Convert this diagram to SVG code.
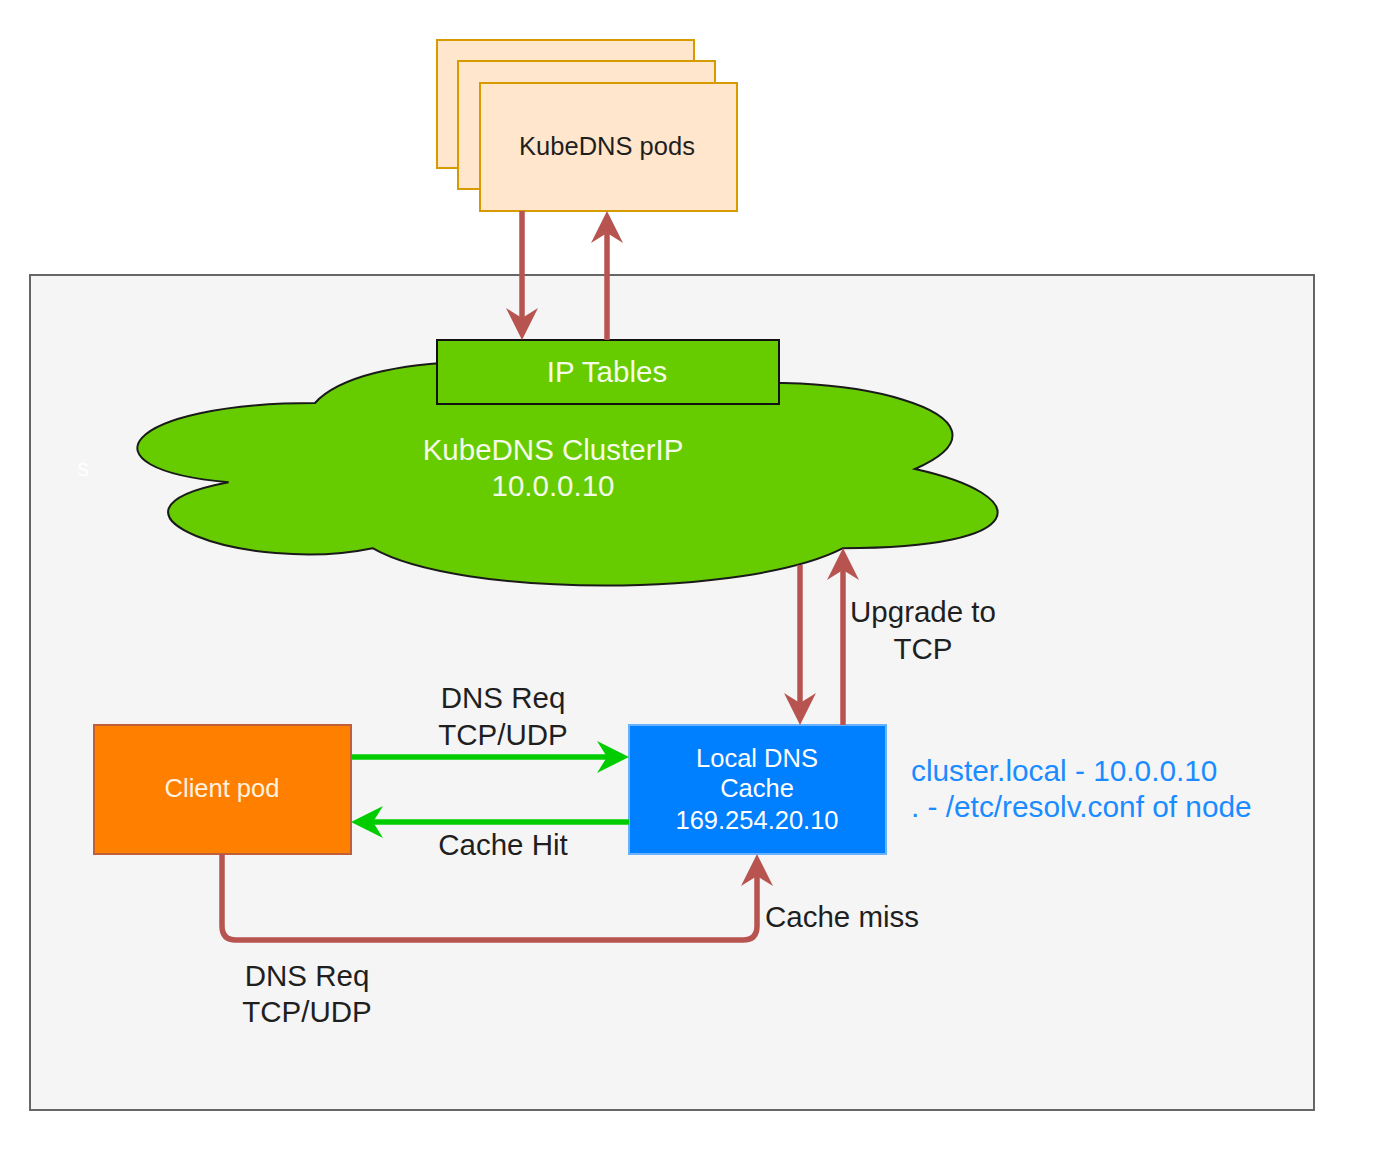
<svg xmlns="http://www.w3.org/2000/svg" width="1375" height="1149" viewBox="0 0 1375 1149">
<style>
text{font-family:"Liberation Sans",Arial,sans-serif;text-anchor:middle}
.lbl{font-size:29.5px;fill:#1f1f1f}
.nd{font-size:25.5px}
.big{font-size:29.5px;fill:#f4fbe8}
.red{fill:none;stroke:#b85450;stroke-width:5.5}
.grn{fill:none;stroke:#00cc00;stroke-width:5.5}
.pod{fill:#ffe6cc;stroke:#d79b00;stroke-width:2}
</style>
<defs>
<marker id="ar" markerUnits="userSpaceOnUse" markerWidth="34" markerHeight="34" refX="10" refY="16" orient="auto"><path d="M0,0 L32,16 L0,32 L10,16 Z" fill="#b85450"/></marker>
<marker id="ag" markerUnits="userSpaceOnUse" markerWidth="34" markerHeight="34" refX="10" refY="16" orient="auto"><path d="M0,0 L32,16 L0,32 L10,16 Z" fill="#00cc00"/></marker>
</defs>
<rect width="1375" height="1149" fill="#ffffff"/>
<g id="node-container"><rect x="30" y="275" width="1284" height="835" fill="#f5f5f5" stroke="#666666" stroke-width="2"/>
<text x="83" y="476" style="font-size:18px;fill:#ffffff">S</text></g>
<g id="node-kubedns-pods">
<rect class="pod" x="437" y="40" width="257" height="128"/>
<rect class="pod" x="458" y="61" width="257" height="128"/>
<rect class="pod" x="480" y="83" width="257" height="128"/>
<text class="nd" x="607" y="155" fill="#1f1f1f">KubeDNS pods</text>
</g>
<g id="node-cloud">
<path d="M315,403 C123,403 75,469 228.6,482.2 C75,511.2 247.8,574.6 372.6,548.2 C459,598 747,598 843,548.2 C1035,548.2 1035,495.4 915,469 C1035,416.2 843,363.4 675,389.8 C555,350.2 363,350.2 315,403 Z" fill="#66cc00" stroke="#1a1a1a" stroke-width="2"/>
<text class="big" x="553" y="460">KubeDNS ClusterIP</text>
<text class="big" x="553" y="496">10.0.0.10</text>
</g>
<g id="node-iptables">
<rect x="437" y="340" width="342" height="64" fill="#66cc00" stroke="#111111" stroke-width="2"/>
<text class="big" x="607" y="382">IP Tables</text>
</g>
<g id="node-client-pod">
<rect x="94" y="725" width="257" height="129" fill="#ff8000" stroke="#c0603a" stroke-width="2"/>
<text class="nd" x="222" y="797" fill="#fff2e0">Client pod</text>
</g>
<g id="node-local-dns">
<rect x="629" y="725" width="257" height="129" fill="#007fff" stroke="#66b2ff" stroke-width="2"/>
<text class="nd" x="757" y="767" fill="#ffffff">Local DNS</text>
<text class="nd" x="757" y="797" fill="#ffffff">Cache</text>
<text class="nd" x="757" y="829" fill="#ffffff">169.254.20.10</text>
</g>
<g id="note">
<text x="911" y="781" style="font-size:29.8px;fill:#1a8cff;text-anchor:start">cluster.local - 10.0.0.10</text>
<text x="911" y="817" style="font-size:29.8px;fill:#1a8cff;text-anchor:start">. - /etc/resolv.conf of node</text>
</g>
<g id="connectors">
<path class="red" d="M522,211 V318" marker-end="url(#ar)"/>
<path class="red" d="M607,340 V233" marker-end="url(#ar)"/>
<path class="red" d="M800,565 V703" marker-end="url(#ar)"/>
<path class="red" d="M843,725 V570" marker-end="url(#ar)"/>
<path class="red" d="M222,854 V926 Q222,940 236,940 H743 Q757,940 757,926 V876" marker-end="url(#ar)"/>
<path class="grn" d="M351,757 H607" marker-end="url(#ag)"/>
<path class="grn" d="M629,822 H373" marker-end="url(#ag)"/>
<text class="lbl" x="503" y="708">DNS Req</text>
<text class="lbl" x="503" y="745">TCP/UDP</text>
<text class="lbl" x="503" y="855">Cache Hit</text>
<text class="lbl" x="923" y="622">Upgrade to</text>
<text class="lbl" x="923" y="659">TCP</text>
<text class="lbl" x="765" y="927" style="text-anchor:start">Cache miss</text>
<text class="lbl" x="307" y="986">DNS Req</text>
<text class="lbl" x="307" y="1022">TCP/UDP</text>
</g>
</svg>
